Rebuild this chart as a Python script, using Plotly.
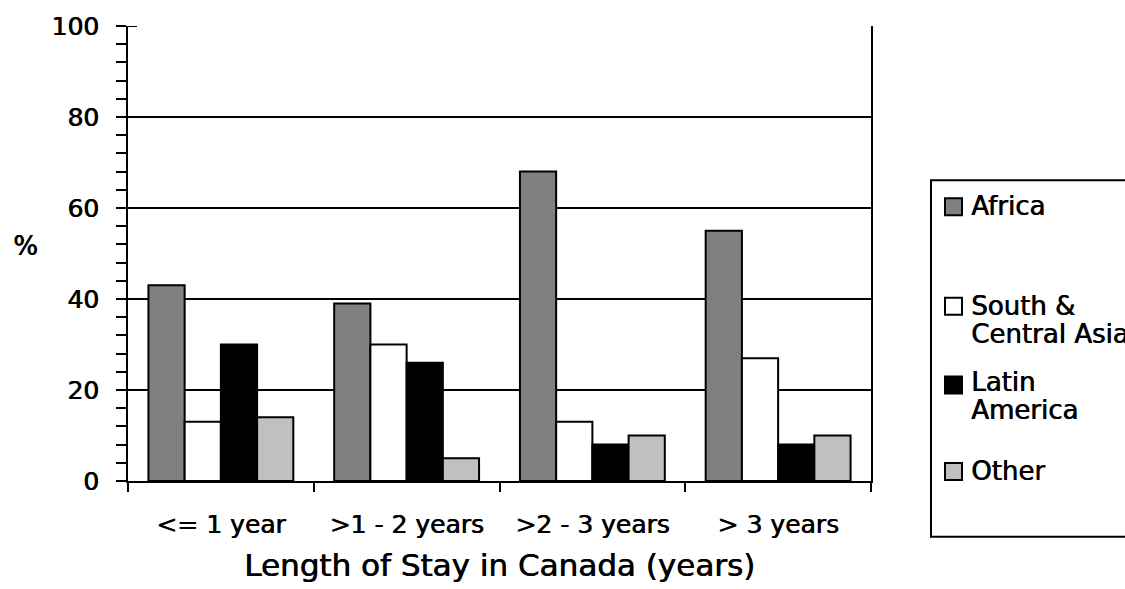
import plotly.graph_objects as go

# Length of stay categories and share (%) by region of origin
categories = ["<= 1 year", ">1 - 2 years", ">2 - 3 years", "> 3 years"]
africa = [43, 39, 68, 55]
south_central_asia = [13, 30, 13, 27]
latin_america = [30, 26, 8, 8]
other = [14, 5, 10, 10]

series_names = ["Africa", "South & Central Asia", "Latin America", "Other"]
series_values = [africa, south_central_asia, latin_america, other]
series_colors = ["#808080", "#ffffff", "#000000", "#c0c0c0"]
legend_lines = [["Africa"], ["South &", "Central Asia"], ["Latin", "America"], ["Other"]]

y_ticks = [0, 20, 40, 60, 80, 100]
grid_values = [20, 40, 60, 80]

FONT = "DejaVu Sans"
HEAVY = "0.7px 0 0 #000000"  # slightly heavier glyph strokes
W, H = 1125, 589
PL, PR, PT, PB = 128, 871, 24, 481  # plot area edges in pixels


def px_x(px):
    return (px - PL) / (PR - PL)


def px_y(py):
    return (PB - py) / (PB - PT)


def font(size):
    return dict(family=FONT, size=size, color="#000000", shadow=HEAVY)


fig = go.Figure()
for name, vals, col in zip(series_names, series_values, series_colors):
    fig.add_trace(go.Bar(
        x=categories, y=vals, name=name,
        marker=dict(color=col, line=dict(color="#000000", width=2)),
        showlegend=False,
    ))

# horizontal gridlines (no line at the top of the range)
for v in grid_values:
    fig.add_hline(y=v, line=dict(color="#000000", width=2), layer="below")

# inner half of the crossing major tick at the top of the y axis
fig.add_shape(type="line", xref="x domain", yref="y", x0=0, x1=9 / (PR - PL),
              y0=100, y1=100, line=dict(color="#000000", width=2))

# legend box, swatches and labels
fig.add_shape(type="rect", xref="paper", yref="paper",
              x0=px_x(931), x1=px_x(1150), y0=px_y(537), y1=px_y(179),
              line=dict(color="#000000", width=2), fillcolor="rgba(0,0,0,0)")
swatch_tops = [197, 297, 376, 463]
line_centers = [[205], [305, 333], [382, 410], [471]]
for lines, col, top, centers in zip(legend_lines, series_colors, swatch_tops, line_centers):
    fig.add_shape(type="rect", xref="paper", yref="paper",
                  x0=px_x(945), x1=px_x(962), y0=px_y(top + 17), y1=px_y(top),
                  line=dict(color="#000000", width=2), fillcolor=col)
    for txt, cy in zip(lines, centers):
        fig.add_annotation(text=txt, xref="paper", yref="paper",
                           x=px_x(969), y=px_y(cy), xanchor="left", yanchor="middle",
                           showarrow=False, font=font(26))

# y axis label
fig.add_annotation(text="%", xref="paper", yref="paper", x=px_x(25), y=px_y(245),
                   xanchor="center", yanchor="middle", showarrow=False,
                   font=font(26))

fig.update_layout(
    width=W, height=H,
    margin=dict(l=PL, r=W - PR, t=PT, b=H - PB, pad=0),
    paper_bgcolor="#ffffff", plot_bgcolor="#ffffff",
    barmode="group", bargap=0.22, bargroupgap=0,
    font=font(25),
)
fig.update_xaxes(
    showline=True, linecolor="#000000", linewidth=2,
    ticks="outside", tickson="boundaries", ticklen=9, tickwidth=2, tickcolor="#000000",
    showgrid=False, ticklabelstandoff=20,
    tickfont=font(25),
    title=dict(text="Length of Stay in Canada (years)", standoff=16,
               font=font(31)),
)
fig.update_yaxes(
    range=[0, 100], tickvals=y_ticks, showgrid=False, zeroline=False,
    showline=True, mirror=True, linecolor="#000000", linewidth=2,
    ticks="outside", ticklen=10, tickwidth=2, tickcolor="#000000",
    ticklabelstandoff=12,
    tickfont=font(25),
    minor=dict(dtick=4, ticks="outside", ticklen=10, tickwidth=2, tickcolor="#000000", showgrid=False),
)

fig.write_html("out.html")
